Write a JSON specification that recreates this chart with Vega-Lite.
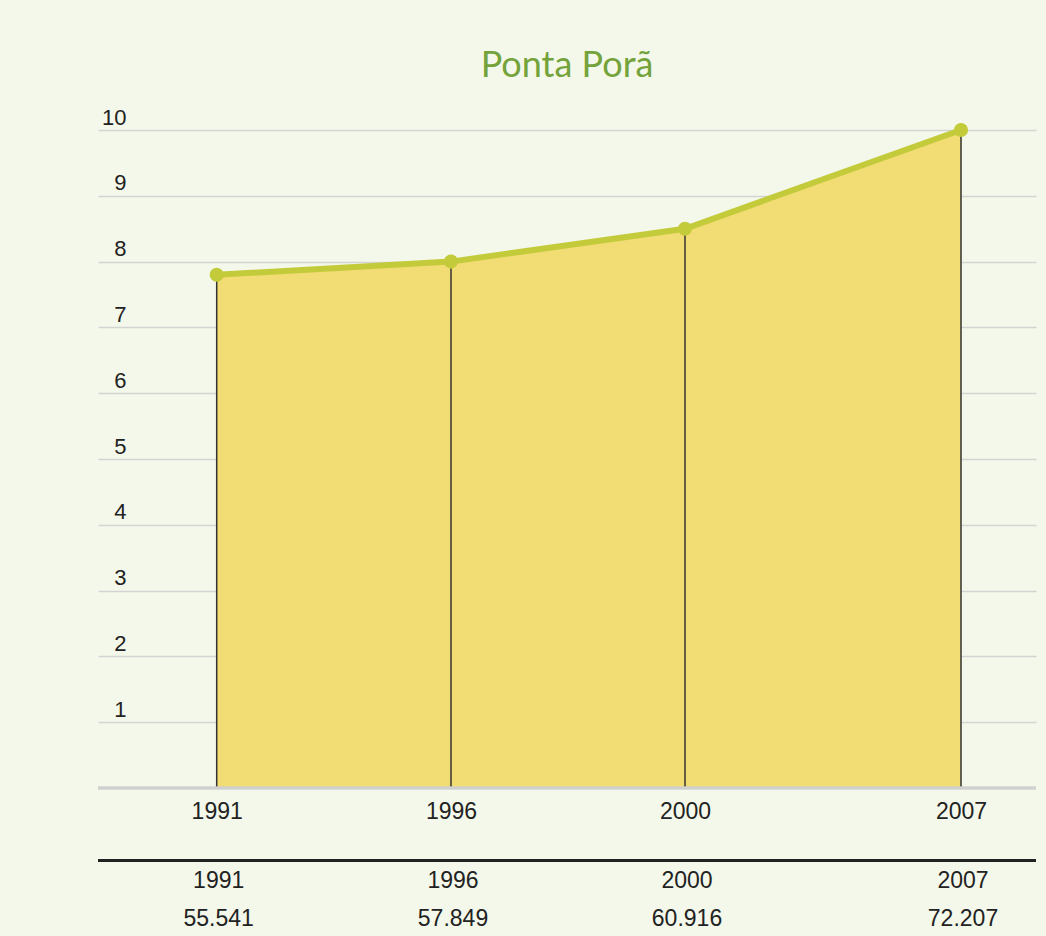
{
  "$schema": "https://vega.github.io/schema/vega-lite/v6.json",
  "autosize": "none",
  "width": 938,
  "height": 658,
  "padding": {"left": 98, "top": 130, "right": 10, "bottom": 148},
  "background": "#f4f8ea",
  "title": {
    "text": "Ponta Porã",
    "anchor": "middle",
    "frame": "group",
    "font": "Lato",
    "fontSize": 36,
    "fontWeight": "normal",
    "color": "#74a33c",
    "baseline": "alphabetic",
    "offset": -7
  },
  "config": {
    "view": {"stroke": null},
    "font": "Liberation Sans"
  },
  "data": {
    "values": [
      {"ano": 1991, "valor": 7.8, "pop": "55.541"},
      {"ano": 1996, "valor": 8.0, "pop": "57.849"},
      {"ano": 2000, "valor": 8.5, "pop": "60.916"},
      {"ano": 2007, "valor": 10.0, "pop": "72.207"}
    ]
  },
  "encoding": {
    "x": {
      "field": "ano",
      "type": "quantitative",
      "scale": {"domain": [1988.474, 1991, 1996, 2000, 2007, 2008.902], "range": [0, 118.7, 353, 587, 863, 938], "zero": false, "nice": false},
      "axis": {
        "values": [1991, 1996, 2000, 2007],
        "format": "d",
        "title": null,
        "grid": false,
        "ticks": false,
        "domain": false,
        "labelFontSize": 23,
        "labelColor": "#222222",
        "labelBaseline": "middle",
        "labelPadding": 23,
        "labelFlush": false
      }
    },
    "y": {
      "field": "valor",
      "type": "quantitative",
      "scale": {"domain": [0, 10], "nice": false},
      "axis": {
        "values": [1, 2, 3, 4, 5, 6, 7, 8, 9, 10],
        "title": null,
        "domain": false,
        "ticks": false,
        "grid": true,
        "gridColor": "#d3d3d3",
        "gridWidth": 1.5,
        "labelFontSize": 22,
        "labelColor": "#222222",
        "labelAlign": "right",
        "labelBaseline": "alphabetic",
        "labelPadding": -28,
        "labelOffset": -6
      }
    }
  },
  "layer": [
    {"mark": {"type": "area", "color": "#f2dc74"}},
    {"mark": {"type": "rule", "color": "#333333", "strokeWidth": 1.5}, "encoding": {"y2": {"datum": 0}}},
    {"mark": {"type": "rule", "color": "#d0d0d0", "strokeWidth": 2.5}, "encoding": {"x": null, "y": {"datum": 0}}},
    {"mark": {"type": "line", "color": "#c3cb3b", "strokeWidth": 6}},
    {"mark": {"type": "point", "filled": true, "opacity": 1, "color": "#c3cb3b", "size": 200}},
    {"mark": {"type": "rule", "color": "#222222", "strokeWidth": 2.5}, "encoding": {"x": null, "y": {"datum": -1.1}}},
    {"mark": {"type": "text", "fontSize": 23, "color": "#222222", "baseline": "middle", "dx": 2}, "encoding": {"y": {"datum": -1.41}, "text": {"field": "ano", "type": "quantitative", "format": "d"}}},
    {"mark": {"type": "text", "fontSize": 23, "color": "#222222", "baseline": "middle", "dx": 2}, "encoding": {"y": {"datum": -1.99}, "text": {"field": "pop", "type": "nominal"}}}
  ]
}
